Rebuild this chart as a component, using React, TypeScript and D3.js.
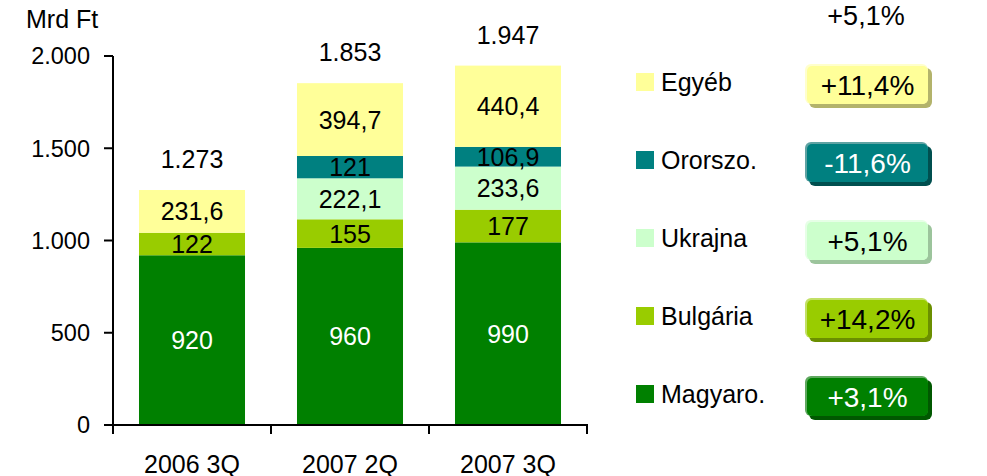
import React from "react";
import * as d3 from "d3";

const categories = ["2006 3Q", "2007 2Q", "2007 3Q"];
const seriesNames = ["Magyaro.", "Bulgária", "Ukrajna", "Ororszo.", "Egyéb"];
const magyaro = [920, 960, 990];
const bulgaria = [122, 155, 177];
const ukrajna = [0, 222.1, 233.6];
const oroszo = [0, 121, 106.9];
const egyeb = [231.6, 394.7, 440.4];
const totalLabels = ["1.273", "1.853", "1.947"];
const changes = ["+3,1%", "+14,2%", "+5,1%", "-11,6%", "+11,4%"];
const totalChange = "+5,1%";
const yTicks = [0, 500, 1000, 1500, 2000];
const yTickLabels = ["0", "500", "1.000", "1.500", "2.000"];
const unitLabel = "Mrd Ft";

const colors = ["#008000", "#99CC00", "#CCFFCC", "#008080", "#FFFF99"];
const shadowColors = ["#005800", "#6B8F00", "#9CC49C", "#004F4F", "#B3B36B"];
const highlightColors = ["#5FA85F", "#C2E066", "#E6FFE6", "#5FA3A3", "#FFFFCC"];
const labelColors = ["#FFFFFF", "#000000", "#000000", "#000000", "#000000"];
const badgeTextColors = ["#FFFFFF", "#000000", "#000000", "#FFFFFF", "#000000"];

const FONT = "'Liberation Sans', Arial, Helvetica, sans-serif";

export default function App() {
  const width = 987;
  const height = 476;
  const series = [magyaro, bulgaria, ukrajna, oroszo, egyeb];
  const rows = categories.map((c, i) => {
    const r: any = { cat: c };
    seriesNames.forEach((s, k) => (r[s] = series[k][i]));
    return r;
  });
  const stacked = d3.stack<any>().keys(seriesNames)(rows);

  const x = d3
    .scaleBand<string>()
    .domain(categories)
    .range([113, 587])
    .paddingInner(0.329)
    .paddingOuter(0.1645);
  const y = d3.scaleLinear().domain([0, 2000]).range([425, 56]);

  const fmt = (v: number) => String(v).replace(".", ",");
  const fs = 25;

  const legendTop = 82;
  const legendStep = 78;
  const badgeX = 805;
  const badgeW = 123;
  const badgeH = 40;

  return (
    <div style={{ position: "absolute", left: 0, top: 0 }}>
      <svg width={width} height={height} style={{ display: "block", fontFamily: FONT }}>
        <rect width={width} height={height} fill="#fff" />
        {/* bars */}
        {stacked.map((layer, k) =>
          layer.map((d, i) => {
            const v = series[k][i];
            if (v <= 0) return null;
            const x0 = x(categories[i])!;
            const yTop = y(d[1]);
            const yBot = y(d[0]);
            return (
              <g key={`${k}-${i}`}>
                <rect x={x0} y={yTop} width={x.bandwidth()} height={yBot - yTop} fill={colors[k]} />
                <text
                  x={x0 + x.bandwidth() / 2}
                  y={(yTop + yBot) / 2}
                  dy="0.36em"
                  textAnchor="middle"
                  fontSize={fs}
                  fill={labelColors[k]}
                >
                  {fmt(v)}
                </text>
              </g>
            );
          })
        )}
        {/* totals */}
        {categories.map((c, i) => {
          const top = stacked[stacked.length - 1][i][1];
          return (
            <text
              key={c}
              x={x(c)! + x.bandwidth() / 2}
              y={y(top) - 31}
              dy="0.36em"
              textAnchor="middle"
              fontSize={fs}
              fill="#000"
            >
              {totalLabels[i]}
            </text>
          );
        })}
        {/* y axis */}
        <line x1={113} x2={113} y1={y(2000)} y2={y(0)} stroke="#000" strokeWidth={2} />
        {yTicks.map((t, i) => (
          <g key={t}>
            <line x1={104} x2={113} y1={y(t)} y2={y(t)} stroke="#000" strokeWidth={2} />
            <text x={90} y={y(t)} dy="0.36em" textAnchor="end" fontSize={23.5} fill="#000">
              {yTickLabels[i]}
            </text>
          </g>
        ))}
        {/* x axis */}
        <line x1={104} x2={588} y1={y(0)} y2={y(0)} stroke="#000" strokeWidth={2} />
        {[0, 1, 2, 3].map((j) => {
          const xx = 113 + x.step() * j;
          return <line key={j} x1={xx} x2={xx} y1={y(0)} y2={y(0) + 9} stroke="#000" strokeWidth={2} />;
        })}
        {categories.map((c) => (
          <text
            key={c}
            x={x(c)! + x.bandwidth() / 2}
            y={464}
            dy="0.36em"
            textAnchor="middle"
            fontSize={fs}
            fill="#000"
          >
            {c}
          </text>
        ))}
        <text x={26} y={19} dy="0.36em" fontSize={fs} fill="#000">
          {unitLabel}
        </text>
        {/* legend */}
        {seriesNames.map((s, k) => {
          const cy = legendTop + (seriesNames.length - 1 - k) * legendStep;
          const by = cy + 2 - badgeH / 2;
          return (
            <g key={s}>
              <rect x={636} y={cy - 9} width={18} height={18} fill={colors[k]} />
              <text x={661} y={cy} dy="0.36em" fontSize={fs} fill="#000">
                {s}
              </text>
              <rect x={badgeX + 4} y={by + 4} width={badgeW} height={badgeH} rx={6} fill={shadowColors[k]} />
              <rect x={badgeX} y={by} width={badgeW} height={badgeH} rx={6} fill={highlightColors[k]} />
              <rect x={badgeX + 2} y={by + 2} width={badgeW - 2} height={badgeH - 2} rx={5} fill={colors[k]} />
              <text
                x={badgeX + badgeW / 2 + 1}
                y={by + badgeH / 2 + 1}
                dy="0.36em"
                textAnchor="middle"
                fontSize={28}
                fill={badgeTextColors[k]}
              >
                {changes[k]}
              </text>
            </g>
          );
        })}
        <text x={866} y={15} dy="0.36em" textAnchor="middle" fontSize={27} fill="#000">
          {totalChange}
        </text>
      </svg>
    </div>
  );
}
